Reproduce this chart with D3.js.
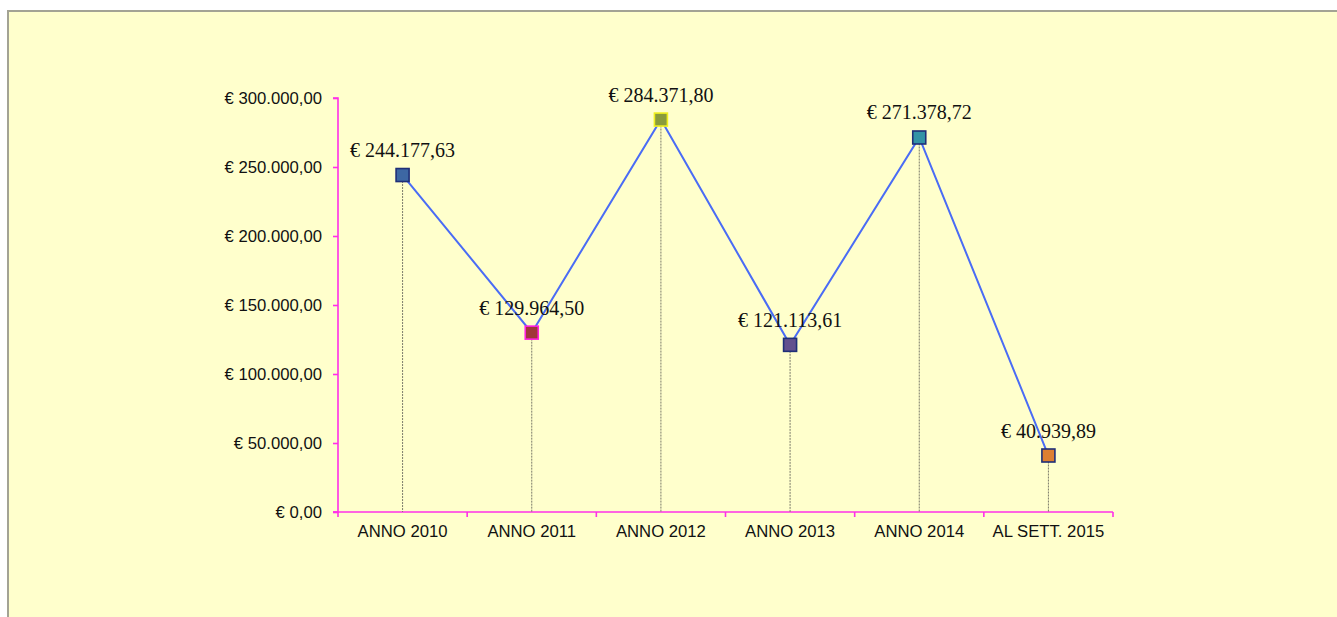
<!DOCTYPE html>
<html>
<head>
<meta charset="utf-8">
<script src="https://cdn.jsdelivr.net/npm/d3@7"></script>
<style>
  body { margin: 0; background: #ffffff; }
</style>
</head>
<body>
<script>
// data
var categories = ["ANNO 2010", "ANNO 2011", "ANNO 2012", "ANNO 2013", "ANNO 2014", "AL SETT. 2015"];
var values = [244177.63, 129964.50, 284371.80, 121113.61, 271378.72, 40939.89];
var yTicks = [0, 50000, 100000, 150000, 200000, 250000, 300000];
var markerFill = ["#3d67a3", "#a0373a", "#8a9b3c", "#62508e", "#3393a6", "#de7f31"];
var markerStroke = ["#1f2f78", "#ff20e0", "#f0f020", "#1f2f78", "#1f2f78", "#1f2f78"];

var width = 1337, height = 617;
var margin = {left: 338, right: 224, top: 98, bottom: 105};

var svg = d3.select("body").append("svg")
  .attr("width", width)
  .attr("height", height);

// pale yellow panel with grey border on top / left
svg.append("rect")
  .attr("x", 8).attr("y", 11)
  .attr("width", width).attr("height", height)
  .attr("fill", "#ffffcc")
  .attr("stroke", "#a3a394")
  .attr("stroke-width", 2);

var x = d3.scaleBand()
  .domain(categories)
  .range([margin.left, width - margin.right]);

var y = d3.scaleLinear()
  .domain([0, 300000])
  .range([height - margin.bottom, margin.top]);

// italian number format
var it = d3.formatLocale({decimal: ",", thousands: ".", grouping: [3], currency: ["€ ", ""]});
var fmt = it.format("$,.2f");

// y axis
var yAxis = svg.append("g")
  .attr("transform", "translate(" + margin.left + ",0)")
  .call(d3.axisLeft(y).tickValues(yTicks).tickFormat(fmt).tickSize(5).tickPadding(11));
yAxis.selectAll("text")
  .attr("font-family", "Liberation Sans, Arial, sans-serif")
  .attr("font-size", 16.7).attr("fill", "#111");

// x axis
var xAxis = svg.append("g")
  .attr("transform", "translate(0," + y(0) + ")")
  .call(d3.axisBottom(x).tickSize(0).tickPadding(13));
xAxis.selectAll("text")
  .attr("font-family", "Liberation Sans, Arial, sans-serif")
  .attr("font-size", 16.7).attr("fill", "#111");
// tick marks at band boundaries
xAxis.selectAll(".bound")
  .data(categories.concat(["end"]))
  .enter().append("line")
  .attr("class", "bound")
  .attr("x1", function(d, i){ return margin.left + i * x.step(); })
  .attr("x2", function(d, i){ return margin.left + i * x.step(); })
  .attr("y1", 0).attr("y2", 5);

svg.selectAll(".domain, .tick line, .bound")
  .attr("stroke", "#ff30e8").attr("stroke-width", 1.6);
yAxis.select(".domain").attr("d", "M-5," + y(300000) + "H0V" + y(0) + "H-5");
xAxis.select(".domain").attr("d", "M" + (margin.left - 5) + ",0H" + (width - margin.right));

var cx = function(i){ return x(categories[i]) + x.bandwidth() / 2; };

// drop lines
svg.selectAll(".drop")
  .data(values)
  .enter().append("line")
  .attr("class", "drop")
  .attr("x1", function(d, i){ return cx(i); })
  .attr("x2", function(d, i){ return cx(i); })
  .attr("y1", function(d){ return y(d); })
  .attr("y2", y(0))
  .attr("stroke", "#7a7a6a")
  .attr("stroke-width", 1)
  .attr("stroke-dasharray", "2,1");

// series line
var line = d3.line()
  .x(function(d, i){ return cx(i); })
  .y(function(d){ return y(d); });

svg.append("path")
  .datum(values)
  .attr("d", line)
  .attr("fill", "none")
  .attr("stroke", "#4a6cf5")
  .attr("stroke-width", 2);

// markers
svg.selectAll(".mark")
  .data(values)
  .enter().append("rect")
  .attr("class", "mark")
  .attr("x", function(d, i){ return cx(i) - 6.5; })
  .attr("y", function(d){ return y(d) - 6.5; })
  .attr("width", 13).attr("height", 13)
  .attr("fill", function(d, i){ return markerFill[i]; })
  .attr("stroke", function(d, i){ return markerStroke[i]; })
  .attr("stroke-width", 1.6);

// value labels
svg.selectAll(".lbl")
  .data(values)
  .enter().append("text")
  .attr("class", "lbl")
  .attr("x", function(d, i){ return cx(i); })
  .attr("y", function(d){ return y(d) - 18; })
  .attr("text-anchor", "middle")
  .attr("font-family", "Liberation Serif, Times New Roman, serif")
  .attr("font-size", 20)
  .attr("fill", "#111")
  .text(function(d){ return fmt(d); });
</script>
</body>
</html>
